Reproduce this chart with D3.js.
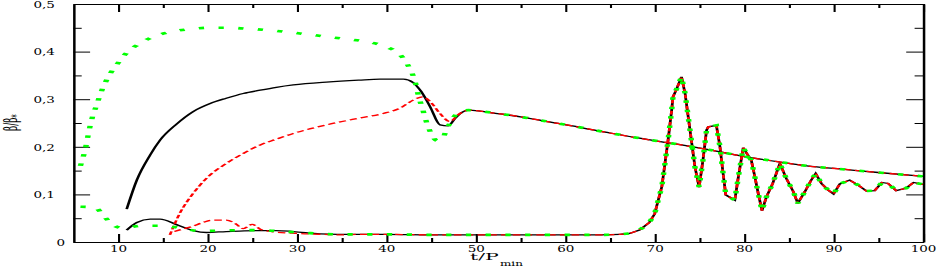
<!DOCTYPE html>
<html>
<head lang="en">
    <meta charset="UTF-8">
    <script src="https://cdn.jsdelivr.net/npm/d3@7"></script>
    <style>
        body { margin: 0; background: #fff; }
        svg { display: block; }
    </style>
</head>
<body>
<svg width="943" height="267"></svg>
<script>
    // shared tails of the curves (all three runs coincide there)
    var upperTail = [[49.2, 0.277], [50.5, 0.275], [52, 0.271], [55, 0.263], [58, 0.253], [61.6, 0.241],
        [65, 0.229], [68.3, 0.218], [72, 0.207], [76, 0.194], [79.9, 0.180], [84, 0.168], [87, 0.160],
        [91, 0.153], [95, 0.146], [100, 0.138]];
    var lowerTail = [[37, 0.016], [40, 0.016], [45, 0.015], [50, 0.015], [55, 0.015], [60, 0.015], [64, 0.015],
        [66.1, 0.016], [67.2, 0.018], [68.3, 0.025], [69.4, 0.041], [70.0, 0.059], [70.4, 0.088], [70.8, 0.116],
        [71.1, 0.158], [71.5, 0.214], [71.9, 0.277], [72.05, 0.305], [72.4, 0.319], [73.0, 0.347], [73.4, 0.312],
        [73.7, 0.270], [74.1, 0.214], [74.5, 0.158], [74.97, 0.115], [75.4, 0.172], [75.8, 0.235], [76.0, 0.242],
        [76.9, 0.245], [77.3, 0.200], [77.65, 0.144], [77.95, 0.099], [78.96, 0.088], [79.3, 0.130], [79.9, 0.198],
        [80.3, 0.186], [80.8, 0.172], [81.2, 0.137], [81.6, 0.100], [82.0, 0.066], [82.5, 0.095], [83.2, 0.123],
        [84.0, 0.165], [84.7, 0.134], [85.5, 0.106], [86.0, 0.081], [86.8, 0.106], [87.5, 0.130], [88.0, 0.144],
        [88.65, 0.123], [89.4, 0.109], [90.0, 0.101], [90.7, 0.122], [91.8, 0.130], [92.7, 0.120], [93.7, 0.107],
        [94.6, 0.108], [95.4, 0.125], [96.1, 0.123], [97.0, 0.108], [98.1, 0.113], [98.95, 0.125], [100, 0.121]];

    var blackUpper = [[10.97, 0.069], [12.1, 0.130], [13.6, 0.183], [14.7, 0.214], [16.56, 0.248], [18.4, 0.274],
        [20.3, 0.291], [22.1, 0.302], [24, 0.312], [25.9, 0.319], [27.7, 0.325], [29.6, 0.330], [33.3, 0.336],
        [36.9, 0.340], [39.3, 0.342], [41.9, 0.342], [43.0, 0.335], [43.9, 0.316], [44.9, 0.284], [46.0, 0.246],
        [46.9, 0.244], [47.7, 0.260], [48.4, 0.272]];
    var blackLower = [[10.97, 0.025], [12.1, 0.041], [13.6, 0.048], [14.7, 0.048], [16.6, 0.036], [18.4, 0.024],
        [19.9, 0.020], [22.1, 0.022], [23.6, 0.023], [25.5, 0.024], [27.7, 0.024], [29.6, 0.022], [32.6, 0.017],
        [34.5, 0.016]];
    var redUpper = [[15.8, 0.015], [16.9, 0.060], [18.4, 0.102], [19.9, 0.134], [22.1, 0.165], [24, 0.186],
        [25.9, 0.204], [27.7, 0.216], [29.6, 0.228], [33.3, 0.246], [36.9, 0.260], [39.65, 0.270], [41.5, 0.281],
        [43.0, 0.298], [44.05, 0.305], [44.9, 0.295], [46.0, 0.270], [47.1, 0.253], [48.0, 0.267], [48.8, 0.275]];
    var redLower = [[16.3, 0.022], [17.2, 0.027], [18.2, 0.032], [19.5, 0.041], [20.6, 0.046], [22.1, 0.046],
        [23.1, 0.039], [24.0, 0.028], [25.0, 0.037], [25.9, 0.027], [27.2, 0.022], [30, 0.018], [33, 0.016],
        [35, 0.015]];
    var greenUpper = [[5.8, 0.160], [5.94, 0.169], [6.2, 0.185], [6.42, 0.202], [6.6, 0.219], [6.8, 0.237],
        [7.0, 0.253], [7.3, 0.272], [7.6, 0.287], [7.9, 0.304], [8.24, 0.321], [8.66, 0.338], [9.2, 0.356],
        [9.8, 0.371], [10.5, 0.388], [11.3, 0.403], [12.45, 0.417], [13.9, 0.431], [15.8, 0.441], [17.85, 0.447],
        [20.1, 0.450], [22.3, 0.450], [24.6, 0.448], [26.8, 0.445], [29, 0.441], [31.3, 0.436], [33.5, 0.431],
        [35.7, 0.426], [38, 0.420], [40, 0.410], [41.3, 0.397], [42.1, 0.381], [42.6, 0.365], [43.0, 0.349],
        [43.3, 0.331], [43.5, 0.314], [43.75, 0.297], [44.05, 0.280], [44.3, 0.263], [44.6, 0.246],
        [44.95, 0.230], [45.4, 0.216], [45.7, 0.213], [46.3, 0.218], [46.7, 0.235], [47.8, 0.268], [48.6, 0.276]];
    var greenLower = [[5.8, 0.074], [7.4, 0.073], [8.3, 0.057], [9.1, 0.041], [10.5, 0.029], [12.6, 0.034],
        [15, 0.034], [17.1, 0.029], [19.2, 0.023], [21.5, 0.024], [23.8, 0.025], [26.05, 0.025], [28.3, 0.022],
        [30.5, 0.020], [32.8, 0.017], [35, 0.016]];

    var xMajor = [10, 20, 30, 40, 50, 60, 70, 80, 90, 100];
    var xMinor = [15, 25, 35, 45, 55, 65, 75, 85, 95];
    var yMajor = [0, 0.1, 0.2, 0.3, 0.4, 0.5];
    var yMinor = [0.05, 0.15, 0.25, 0.35, 0.45];

    (function () {
        var svg = d3.select('svg');
        var plotLeft = 73.3, plotRight = 923, plotTop = 4, plotBottom = 242;
        var k = 2.1; // the plot is stretched sideways

        var xs = d3.scaleLinear().domain([5, 100]).range([plotLeft, plotRight]);
        var xIn = d3.scaleLinear().domain([5, 100]).range([plotLeft / k, plotRight / k]);
        var y = d3.scaleLinear().domain([0, 0.5]).range([plotBottom, plotTop]);

        var g = svg.append('g').attr('transform', 'scale(' + k + ',1)');

        function frame(axis, tr, vals, size, keepDomain) {
            var a = g.append('g').attr('transform', tr)
                    .call(axis.tickValues(vals).tickSizeInner(size).tickSizeOuter(0).tickFormat(''));
            a.selectAll('text').remove();
            a.selectAll('line').attr('stroke-width', 1);
            if (keepDomain) a.select('.domain').attr('stroke-width', 1.2);
            else a.select('.domain').remove();
        }
        frame(d3.axisBottom(xIn), 'translate(0,' + plotBottom + ')', xMajor, -8, true);
        frame(d3.axisBottom(xIn), 'translate(0,' + plotBottom + ')', xMinor, -4, false);
        frame(d3.axisTop(xIn), 'translate(0,' + plotTop + ')', xMajor, -8, true);
        frame(d3.axisTop(xIn), 'translate(0,' + plotTop + ')', xMinor, -4, false);
        frame(d3.axisLeft(y), 'translate(' + (plotLeft / k) + ',0)', yMajor, -8, true);
        frame(d3.axisLeft(y), 'translate(' + (plotLeft / k) + ',0)', yMinor, -4, false);
        frame(d3.axisRight(y), 'translate(' + (plotRight / k) + ',0)', yMajor, -8, true);
        frame(d3.axisRight(y), 'translate(' + (plotRight / k) + ',0)', yMinor, -4, false);

        // smooth where the run is smooth, straight segments in the oscillating part
        var smooth = d3.line().curve(d3.curveMonotoneX)
                .x(function (d) { return xIn(d[0]); })
                .y(function (d) { return y(d[1]); });
        var straight = d3.line()
                .x(function (d) { return xIn(d[0]); })
                .y(function (d) { return y(d[1]); });
        function lowerPath(head) {
            var flat = head.concat(lowerTail.filter(function (d) { return d[0] <= 67.2; }));
            var wave = lowerTail.filter(function (d) { return d[0] >= 67.2; });
            return smooth(flat) + straight(wave).replace(/^M/, 'L');
        }

        var curves = [
            {d: smooth(blackUpper.concat(upperTail)), color: '#000', w: 1.3, dash: null},
            {d: lowerPath(blackLower), color: '#000', w: 1.3, dash: null},
            {d: smooth(redUpper.concat(upperTail)), color: '#ff0000', w: 1.3, dash: '3.6 2'},
            {d: lowerPath(redLower), color: '#ff0000', w: 1.3, dash: '3.6 2'},
            {d: smooth(greenUpper.concat(upperTail)), color: '#00ff00', w: 2.6, dash: '2.5 6.9'},
            {d: lowerPath(greenLower), color: '#00ff00', w: 2.6, dash: '2.5 6.9'}
        ];
        g.selectAll('.curve')
                .data(curves)
                .enter()
                .append('path')
                .attr('class', 'curve')
                .attr('d', function (d) { return d.d; })
                .attr('fill', 'none')
                .attr('stroke', function (d) { return d.color; })
                .attr('stroke-width', function (d) { return d.w; })
                .attr('stroke-dasharray', function (d) { return d.dash; });

        // tick labels
        var font = '"DejaVu Serif", serif';
        var xl = svg.append('g').attr('transform', 'translate(0,' + plotBottom + ')')
                .call(d3.axisBottom(xs).tickValues(xMajor).tickSize(0).tickFormat(d3.format('d')));
        xl.select('.domain').remove();
        xl.selectAll('text').attr('y', 10.5).attr('dy', null)
                .attr('font-family', font).attr('font-size', 10).attr('fill', '#000')
                .attr('transform', 'scale(1.35,1)');

        var yl = svg.append('g').attr('transform', 'translate(' + plotLeft + ',0)')
                .call(d3.axisLeft(y).tickValues(yMajor).tickSize(0).tickPadding(13.6)
                        .tickFormat(function (d) { return d === 0 ? '0' : d3.format('.1f')(d).replace('.', ','); }));
        yl.select('.domain').remove();
        yl.selectAll('text')
                .attr('font-family', font).attr('font-size', 10).attr('fill', '#000')
                .attr('x', function (d) { return d === 0 ? -6.1 : -13.6; })
                .attr('transform', 'scale(1.35,1)');

        // axis titles
        svg.append('text')
                .attr('transform', 'translate(470,260) scale(2.4,1)')
                .attr('font-family', font).attr('font-size', 8.5)
                .text('t/P');
        svg.append('text')
                .attr('transform', 'translate(500,265.5) scale(1.5,1)')
                .attr('font-family', font).attr('font-size', 8)
                .text('min');

        var yt = svg.append('text')
                .attr('transform', 'translate(17,131) rotate(-90) scale(1,2.1)')
                .attr('font-family', font).attr('font-size', 9);
        yt.append('tspan').text('β/β');
        yt.append('tspan').attr('font-size', 6).attr('dy', 2).text('*');
    })();
</script>
</body>
</html>
